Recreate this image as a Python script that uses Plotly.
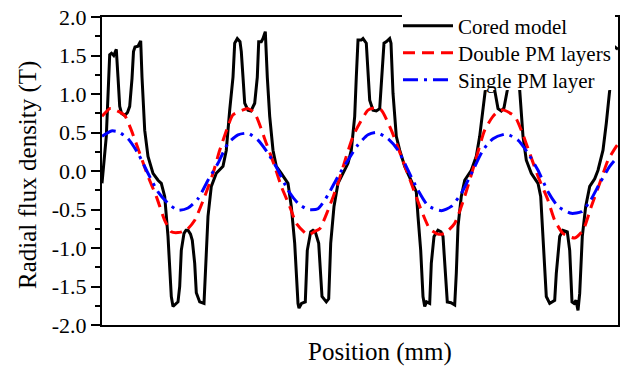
import plotly.graph_objects as go

# Position (arbitrary, mm-like units across the plotted window)
pos_cored = [0, 4.3, 7.7, 9.5, 11.7, 14.3, 16, 17.7, 19.5, 22.7, 25.5, 27.7, 30, 31.5, 33, 36, 38.7,
             40, 42.7, 46, 51, 56, 59.3, 62.7, 66, 69.3, 71, 73.5, 76, 77.7, 79.3, 82, 84, 86, 88.5,
             90.3, 92.7, 94.3, 97.7, 102, 103.3, 106, 109.3, 114.3, 121, 124.3, 127.7, 131, 132.7,
             135.3, 138, 139.3, 141, 142.7, 146, 149, 152.7, 155.3, 156.7, 159.3, 161, 163.3, 165.3,
             167.7, 171, 174.3, 179.3, 186, 189.3, 192.7, 196, 197, 199.5, 203.3, 205.3, 208.7, 211,
             213.3, 216.7, 220, 224.3, 226.7, 228.7, 232, 236, 241, 246, 249.3, 252.7, 254.3, 256,
             259.3, 261, 264.3, 266, 267.7, 271, 274.3, 277.7, 279.3, 282, 284.5, 287.7, 289, 291,
             294.3, 297.7, 302.7, 309.3, 314.3, 316, 318.7, 321, 322.7, 324.5, 327.7, 329.3, 332,
             336, 339, 341, 342.7, 345.3, 349, 352.7, 354.3, 356, 359.3, 362.7, 369.3, 374.3, 377.7,
             381, 383.3, 385, 386.5, 390, 392, 392.7, 396, 399.3, 402, 405.3, 407, 409, 413, 415.5,
             417.7, 421, 424.3, 429.3, 436, 438.7, 441, 444.3, 447.7, 450, 452.7, 454.3, 457.7, 461,
             465.3, 467.7, 470, 472, 474, 476, 477.7, 480.3, 483.7, 487.7, 492.7, 496, 501, 504.3,
             507.7, 510, 512, 516]
b_cored = [-0.16, 0.45, 1.51, 1.53, 1.50, 1.58, 1.22, 0.84, 0.75, 0.72, 0.76, 0.84, 1.20, 1.55, 1.61,
           1.62, 1.69, 1.22, 0.53, 0.19, -0.03, -0.12, -0.16, -0.33, -0.85, -1.63, -1.76, -1.73,
           -1.70, -1.50, -1.03, -0.81, -0.77, -0.77, -0.82, -0.90, -1.20, -1.58, -1.70, -1.72, -1.40,
           -0.59, -0.20, -0.03, 0.06, 0.27, 0.79, 1.22, 1.66, 1.72, 1.68, 1.55, 1.22, 0.88, 0.79,
           0.78, 0.88, 1.22, 1.68, 1.68, 1.72, 1.81, 1.22, 0.71, 0.27, 0.06, -0.03, -0.16, -0.46,
           -0.94, -1.72, -1.78, -1.72, -1.70, -1.03, -0.79, -0.77, -0.79, -0.94, -1.63, -1.70, -1.66,
           -0.94, -0.46, -0.16, -0.03, 0.10, 0.27, 0.71, 1.22, 1.70, 1.70, 1.72, 1.66, 1.22, 0.92,
           0.79, 0.78, 0.81, 1.13, 1.66, 1.68, 1.72, 1.66, 1.01, 0.45, 0.27, 0.06, -0.12, -0.27,
           -0.59, -1.03, -1.63, -1.76, -1.70, -1.72, -1.20, -0.85, -0.77, -0.79, -0.85, -1.20, -1.70,
           -1.71, -1.74, -1.33, -0.72, -0.33, -0.12, 0.01, 0.19, 0.45, 0.79, 1.05, 1.45, 1.68, 1.70,
           1.40, 1.05, 0.81, 0.78, 0.82, 1.05, 1.55, 1.68, 1.72, 1.70, 1.05, 0.45, 0.14, -0.03,
           -0.16, -0.33, -0.85, -1.63, -1.72, -1.70, -1.68, -1.33, -0.85, -0.77, -0.79, -1.03, -1.70,
           -1.72, -1.68, -1.81, -1.59, -0.85, -0.46, -0.20, -0.10, 0.01, 0.27, 0.62, 1.05, 1.45,
           1.62, 1.58]

pos_double = [0, 7.7, 10, 22.7, 29.3, 37.7, 46, 54.3, 62.7, 69.3, 76, 84.3, 92.7, 102.7, 111, 117.7,
              126, 131, 146, 152.7, 164.3, 172.7, 179.3, 187.7, 194.3, 206, 212, 217.7, 226, 236,
              244.3, 251, 257.7, 266, 272.7, 279.3, 289.3, 299.3, 309.3, 319.3, 327.7, 336, 342.7,
              352.7, 362.7, 372.7, 382.7, 391, 397.7, 402, 412.7, 419.3, 427.7, 436, 446, 452.7, 461,
              472.7, 481, 489.3, 497.7, 506, 514.3, 516]
b_double = [0.71, 0.81, 0.81, 0.72, 0.53, 0.23, -0.07, -0.33, -0.64, -0.79, -0.80, -0.77, -0.64,
            -0.33, -0.03, 0.27, 0.58, 0.73, 0.81, 0.75, 0.36, 0.06, -0.20, -0.46, -0.68, -0.83,
            -0.79, -0.75, -0.51, -0.16, 0.19, 0.45, 0.62, 0.79, 0.82, 0.79, 0.53, 0.19, -0.16,
            -0.51, -0.75, -0.82, -0.81, -0.68, -0.33, 0.10, 0.53, 0.71, 0.79, 0.79, 0.71, 0.53,
            0.23, -0.07, -0.38, -0.64, -0.81, -0.87, -0.77, -0.46, -0.16, 0.14, 0.32, 0.35]

pos_single = [0, 9.3, 16, 26, 36, 46, 56, 66, 76, 86, 96, 106, 116, 126, 136, 146, 156, 166, 176,
              186, 196, 206, 216, 226, 236, 246, 256, 266, 274.3, 286, 296, 306, 316, 326, 339.3,
              349.3, 359.3, 371, 381, 391, 404.3, 416, 426, 436, 446, 456, 469.3, 479.3, 487.7,
              497.7, 507.7, 516]
b_single = [0.45, 0.52, 0.51, 0.42, 0.23, -0.03, -0.27, -0.42, -0.51, -0.48, -0.36, -0.12, 0.10,
            0.36, 0.47, 0.49, 0.40, 0.23, 0.01, -0.25, -0.42, -0.50, -0.49, -0.31, -0.07, 0.14,
            0.34, 0.47, 0.50, 0.42, 0.27, 0.01, -0.25, -0.45, -0.515, -0.46, -0.29, 0.01, 0.27,
            0.42, 0.48, 0.40, 0.23, 0.01, -0.27, -0.46, -0.55, -0.53, -0.40, -0.16, 0.06, 0.19]

y_ticks = [-2.0, -1.5, -1.0, -0.5, 0.0, 0.5, 1.0, 1.5, 2.0]

FONT = "Liberation Serif, Times New Roman, serif"

# pixel geometry of the plot area (used only for placing legend/labels)
PL, PR, PT, PB = 102, 618, 17, 325
W, H = PR - PL, PB - PT


def px_x(px):
    return (px - PL) / W


def px_y(py):
    return (PB - py) / H


fig = go.Figure()
fig.add_trace(go.Scatter(x=pos_cored, y=b_cored, mode="lines", name="Cored model",
                         line=dict(color="black", width=3), legend="legend"))
fig.add_trace(go.Scatter(x=pos_double, y=b_double, mode="lines", name="Double PM layers",
                         line=dict(color="#ff0000", width=3, dash="12px,7px", shape="spline",
                                   smoothing=0.6), legend="legend2"))
fig.add_trace(go.Scatter(x=pos_single, y=b_single, mode="lines", name="Single PM layer",
                         line=dict(color="#0000ff", width=3, dash="15px,6px,3px,6px",
                                   shape="spline", smoothing=0.6), legend="legend3"))

leg_common = dict(x=px_x(398), xanchor="left", yanchor="top", bgcolor="rgba(0,0,0,0)",
                  borderwidth=0, font=dict(size=21, family=FONT), itemwidth=50)

fig.update_layout(
    width=622, height=367,
    margin=dict(l=PL, r=622 - PR, t=PT, b=367 - PB, autoexpand=False),
    paper_bgcolor="white", plot_bgcolor="white",
    font=dict(family=FONT, color="black", size=21),
    showlegend=True,
    legend=dict(y=px_y(5.5), **leg_common),
    legend2=dict(y=px_y(32.5), **leg_common),
    legend3=dict(y=px_y(59.5), **leg_common),
    shapes=[dict(type="rect", xref="paper", yref="paper", x0=px_x(402), x1=px_x(615),
                 y0=px_y(90), y1=px_y(12), fillcolor="white", line=dict(width=0),
                 layer="above")],
    annotations=[
        dict(text="Position (mm)", xref="paper", yref="paper",
             x=px_x(380), y=px_y(352), xanchor="center",
             yanchor="middle", showarrow=False, font=dict(size=25, family=FONT)),
        dict(text="Radial flux density (T)", xref="paper", yref="paper",
             x=px_x(28), y=px_y(175), xanchor="center", yanchor="middle",
             textangle=-90, showarrow=False, font=dict(size=25, family=FONT)),
    ],
)
fig.update_xaxes(range=[0, 516], showticklabels=False, ticks="", showgrid=False, zeroline=False,
                 showline=True, linecolor="black", linewidth=2, mirror=True)
fig.update_yaxes(range=[-2, 2], tickvals=y_ticks, ticktext=[f"{v:.1f}" for v in y_ticks],
                 ticks="outside", ticklen=9, tickwidth=1.5, tickcolor="black",
                 minor=dict(ticks="outside", ticklen=5, tickwidth=1.5, dtick=0.25,
                            tickcolor="black", showgrid=False),
                 tickfont=dict(size=22, family=FONT),
                 showgrid=False, zeroline=False, showline=True, linecolor="black",
                 linewidth=2, mirror=True)

fig.write_html("out.html")
